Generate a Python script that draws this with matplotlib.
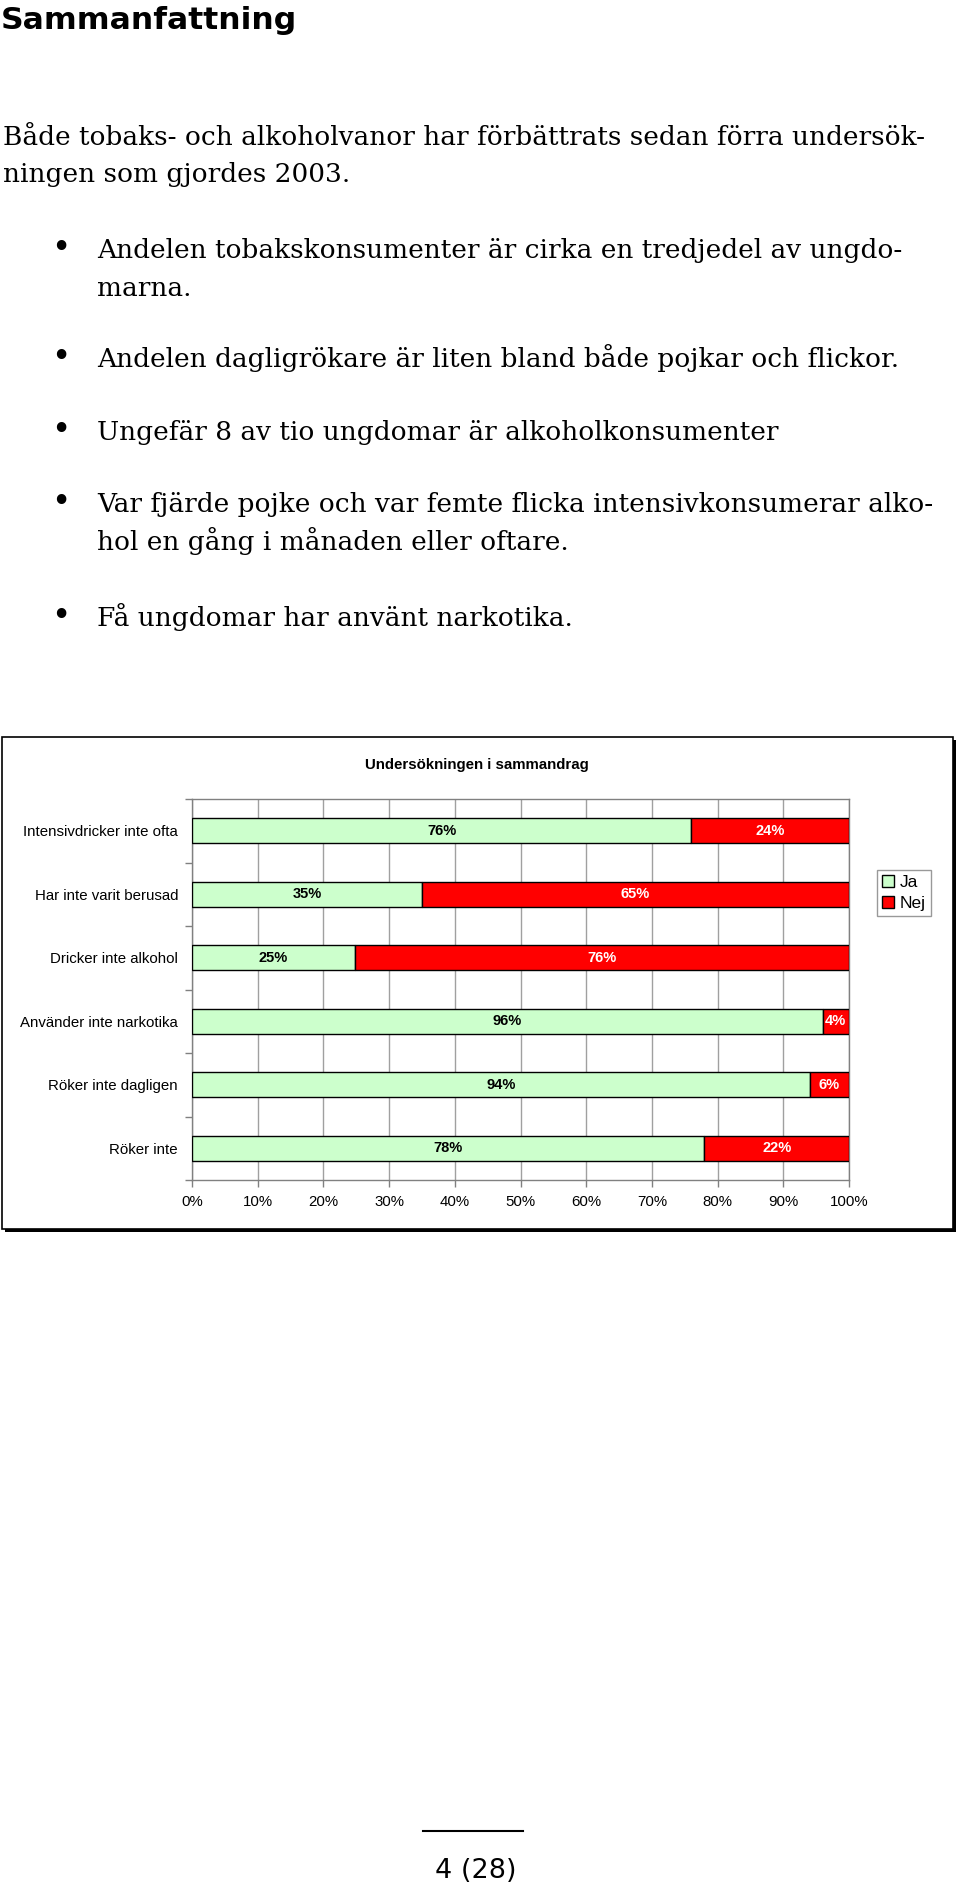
import matplotlib
matplotlib.use('Agg')
import matplotlib.pyplot as plt
from matplotlib.patches import Rectangle, Patch
from matplotlib.lines import Line2D
import numpy as np

# ---------------- data ----------------
heading = "Sammanfattning"
intro_lines = ["Både tobaks- och alkoholvanor har förbättrats sedan förra undersök-",
               "ningen som gjordes 2003."]
bullets = [
    ["Andelen tobakskonsumenter är cirka en tredjedel av ungdo-", "marna."],
    ["Andelen dagligrökare är liten bland både pojkar och flickor."],
    ["Ungefär 8 av tio ungdomar är alkoholkonsumenter"],
    ["Var fjärde pojke och var femte flicka intensivkonsumerar alko-",
     "hol en gång i månaden eller oftare."],
    ["Få ungdomar har använt narkotika."],
]
chart_title = "Undersökningen i sammandrag"
categories = ["Intensivdricker inte ofta", "Har inte varit berusad", "Dricker inte alkohol",
              "Använder inte narkotika", "Röker inte dagligen", "Röker inte"]
ja_values = [76, 35, 25, 96, 94, 78]
nej_values = [24, 65, 76, 4, 6, 22]
series_names = ["Ja", "Nej"]
x_ticks = [0, 10, 20, 30, 40, 50, 60, 70, 80, 90, 100]
x_tick_labels = ["0%", "10%", "20%", "30%", "40%", "50%", "60%", "70%", "80%", "90%", "100%"]
page_label = "4 (28)"

# ---------------- layout helpers ----------------
W, H = 960, 1889
plt.rcParams['font.family'] = ['Liberation Sans', 'DejaVu Sans']
fig = plt.figure(figsize=(W / 100, H / 100), dpi=100)
renderer = fig.canvas.get_renderer()


def fx(px):
    return px / W


def fy(py):
    return 1 - py / H


def fit_width(t, target):
    bb = t.get_window_extent(renderer)
    t.set_fontsize(t.get_fontsize() * target / bb.width)
    return t.get_fontsize()


# heading
th = fig.text(fx(1), fy(29), heading, family='DejaVu Sans', weight='bold',
              fontsize=20, ha='left', va='baseline')
fit_width(th, 296)

# body text
serif = 'DejaVu Serif'
t0 = fig.text(fx(3), fy(145), intro_lines[0], family=serif, fontsize=14,
              ha='left', va='baseline')
body_fs = fit_width(t0, 924)
fig.text(fx(3), fy(182), intro_lines[1], family=serif, fontsize=body_fs,
         ha='left', va='baseline')

bullet_baselines = [[258, 296], [367], [440], [512, 550], [626]]
for lines, bases in zip(bullets, bullet_baselines):
    fig.text(fx(51), fy(bases[0]), "\u2022", family='DejaVu Sans', fontsize=body_fs * 1.25,
             ha='left', va='baseline')
    for ln, b in zip(lines, bases):
        fig.text(fx(97), fy(b), ln, family=serif, fontsize=body_fs,
                 ha='left', va='baseline')

# chart frame with shadow
bx0, by0, bx1, by1 = 2, 737, 953, 1229
fig.patches.append(Rectangle((fx(bx0 + 3), fy(by1 + 3)), fx(bx1 - bx0), (by1 - by0) / H,
                             transform=fig.transFigure, facecolor='black',
                             edgecolor='black', lw=0, zorder=-3))
fig.patches.append(Rectangle((fx(bx0), fy(by1)), fx(bx1 - bx0), (by1 - by0) / H,
                             transform=fig.transFigure, facecolor='white',
                             edgecolor='black', lw=1.2, zorder=-2))

fig.text(fx(477), fy(765), chart_title, fontsize=10.8, weight='bold',
         ha='center', va='center')

# axes
pl, pr, pt, pb = 192, 849, 799, 1180
ax = fig.add_axes([fx(pl), fy(pb), (pr - pl) / W, (pb - pt) / H])
ax.set_zorder(1)
ax.set_facecolor('white')
n = len(categories)
y = np.arange(n)
ja = np.array(ja_values, dtype=float)
nej = np.array(nej_values, dtype=float)
tot = ja + nej
ja_f = ja / tot
nej_f = nej / tot

ax.barh(y, ja_f, height=0.4, color='#CCFFCC', edgecolor='black', lw=1, zorder=3,
        label=series_names[0])
ax.barh(y, nej_f, left=ja_f, height=0.4, color='#FF0000', edgecolor='black', lw=1,
        zorder=3, label=series_names[1])
for i in range(n):
    ax.text(ja_f[i] / 2, y[i], f"{ja_values[i]}%", ha='center', va='center',
            fontsize=10.5, weight='bold', color='black', zorder=4)
    ax.text(ja_f[i] + nej_f[i] / 2, y[i], f"{nej_values[i]}%", ha='center',
            va='center', fontsize=10.5, weight='bold', color='white', zorder=4)

ax.set_xlim(0, 1)
ax.set_ylim(n - 0.5, -0.5)
ax.set_xticks(np.array(x_ticks) / 100)
ax.set_xticklabels(x_tick_labels, fontsize=10.8)
ax.set_yticks(y)
ax.set_yticklabels(categories, fontsize=10.8)
ax.set_yticks(np.arange(-0.5, n, 1.0), minor=True)
ax.tick_params(axis='y', which='major', length=0, pad=10)
ax.tick_params(axis='y', which='minor', length=5, color='#808080', width=1)
ax.tick_params(axis='x', which='major', length=5, color='#808080', width=1, pad=6)
ax.grid(axis='x', color='#A0A0A0', lw=1, zorder=1)
ax.set_axisbelow(True)
for s in ax.spines.values():
    s.set_color('#808080')
    s.set_linewidth(1)

handles = [Patch(facecolor='#CCFFCC', edgecolor='black', label=series_names[0]),
           Patch(facecolor='#FF0000', edgecolor='black', label=series_names[1])]
leg = fig.legend(handles=handles, loc='upper left', bbox_to_anchor=(fx(877), fy(870)),
                 frameon=True, fancybox=False, edgecolor='#999999', framealpha=1,
                 fontsize=12.5, handlelength=0.7, handleheight=0.7, handletextpad=0.3,
                 borderpad=0.3, labelspacing=0.3, borderaxespad=0)
leg.get_frame().set_linewidth(1)

# footer
fig.add_artist(Line2D([fx(423), fx(523)], [fy(1831), fy(1831)], color='black', lw=1.5,
                      transform=fig.transFigure))
tp = fig.text(fx(476), fy(1878), page_label, family='DejaVu Sans', fontsize=16,
              ha='center', va='baseline')
fit_width(tp, 81)

fig.savefig('out.png', dpi=100)
